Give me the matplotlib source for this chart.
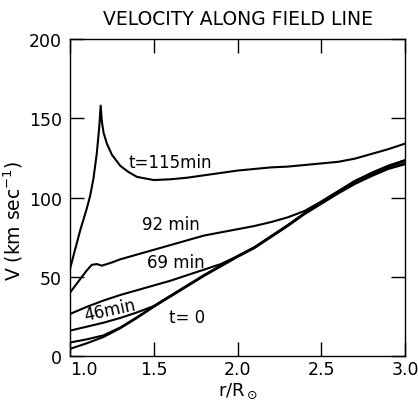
import numpy as np
import matplotlib
matplotlib.use("Agg")
import matplotlib.pyplot as plt

# velocity along field line (km/s vs r/Ro)
r_grid = [1.0, 1.1, 1.2, 1.3, 1.4, 1.5, 1.6, 1.7, 1.8, 1.9, 2.0,
          2.1, 2.2, 2.3, 2.4, 2.5, 2.6, 2.7, 2.8, 2.9, 3.0]

v_t0 = [4.5, 8, 12, 17.5, 24, 31, 37.5, 44, 50.5, 56.5, 62.5,
        68, 75, 82, 89.5, 96, 102.5, 108.5, 113.5, 118, 121]
v_t23 = [8.5, 10.5, 13, 18, 24.5, 31.5, 38, 44.5, 51, 57, 63,
         68.5, 75.5, 82.5, 90, 96.5, 103, 109, 114, 118.5, 121.5]
v_t46 = [16, 18.5, 21, 24, 27.5, 31.5, 38, 44.5, 51, 57, 63,
         68.5, 75.5, 82.5, 90, 97, 103.5, 110, 115, 119.5, 123]
v_t69 = [26.5, 31, 35, 38.5, 41.5, 44.5, 47.5, 51, 54.5, 58, 63,
         68.5, 75.5, 82.5, 90, 97, 103.5, 110, 115.5, 120, 123.5]

r_92 = [1.0, 1.05, 1.1, 1.13, 1.16, 1.19, 1.25, 1.3, 1.4, 1.5, 1.6, 1.7,
        1.8, 1.9, 2.0, 2.1, 2.2, 2.3, 2.4, 2.5, 2.6, 2.7, 2.8, 2.9, 3.0]
v_92 = [40, 47, 54, 57.5, 58, 57, 59, 61, 64, 67, 70, 73,
        76, 78, 80, 82, 84.5, 87.5, 91.5, 97.5, 104, 110.5, 115.5, 120, 123.5]

r_115 = [1.0, 1.02, 1.04, 1.06, 1.08, 1.1, 1.12, 1.14, 1.16, 1.175, 1.183,
         1.19, 1.2, 1.22, 1.25, 1.3, 1.35, 1.4, 1.5, 1.6, 1.7, 1.8, 1.9,
         2.0, 2.1, 2.2, 2.3, 2.4, 2.5, 2.6, 2.7, 2.8, 2.9, 3.0]
v_115 = [55, 63, 71, 79, 86, 93, 101, 112, 128, 145, 158,
         148, 141, 134, 127, 120, 116, 113, 111, 111.5, 112.5, 114, 115.5,
         117, 118, 119, 119.5, 120.5, 121.5, 122.5, 124.5, 127.5, 130.5, 134]

plt.rcParams['font.family'] = ['DejaVu Sans']

fig = plt.figure(figsize=(4.18, 4.10), dpi=100)
ax = fig.add_axes([0.1675, 0.1293, 0.969 - 0.1675, 0.9024 - 0.1293])

for r, v in [(r_grid, v_t0), (r_grid, v_t23), (r_grid, v_t46),
             (r_grid, v_t69), (r_92, v_92), (r_115, v_115)]:
    ax.plot(r, v, color='black', lw=1.5, solid_joinstyle='round')

ax.set_xlim(1.0, 3.0)
ax.set_ylim(0, 200)
ax.set_xticks([1.0, 1.5, 2.0, 2.5, 3.0])
ax.set_xticklabels(['1.0', '1.5', '2.0', '2.5', '3.0'])
ax.set_yticks([0, 50, 100, 150, 200])
ax.tick_params(direction='in', length=10, width=1, labelsize=12.5,
               top=True, right=True)
ax.tick_params(axis='x', pad=3)
ax.tick_params(axis='y', pad=6)
for s in ax.spines.values():
    s.set_linewidth(1)
# first x label sits right of the corner so it clears the "0"
ax.get_xticklabels()[0].set_horizontalalignment('left')

ax.text(1.60, 122.5, 't=115min', fontsize=12, ha='center', va='center')
ax.text(1.60, 83, '92 min', fontsize=12, ha='center', va='center')
ax.text(1.63, 59, '69 min', fontsize=12, ha='center', va='center')
ax.text(1.24, 29, '46min', fontsize=12, ha='center', va='center', rotation=12)
ax.text(1.70, 24.5, 't= 0', fontsize=12, ha='center', va='center')

ax.set_title('VELOCITY ALONG FIELD LINE', fontsize=13.5, pad=11)
ax.set_xlabel(r'r/R$_\odot$', fontsize=13, labelpad=2)
ax.set_ylabel(r'V (km sec$^{-1}$)', fontsize=13.5)
ax.yaxis.set_label_coords(-0.135, 0.43)

fig.savefig('out.png', dpi=100)
